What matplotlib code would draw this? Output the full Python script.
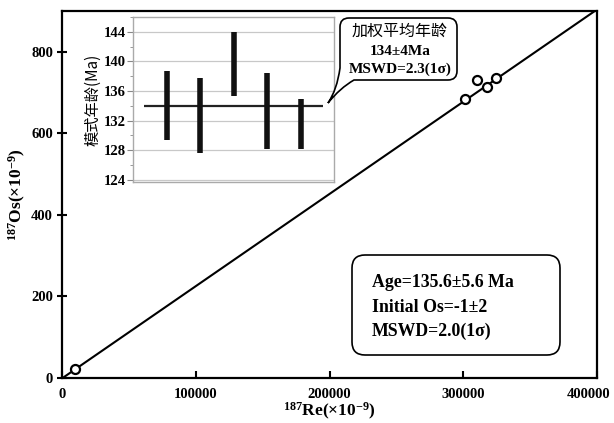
import numpy as np
import matplotlib
matplotlib.use("Agg")
import matplotlib.pyplot as plt
from matplotlib.path import Path
from matplotlib.patches import PathPatch, FancyBboxPatch
from matplotlib.transforms import ScaledTranslation

# ---- data ----
re187 = [9800, 301500, 310400, 317900, 324600]
os187 = [22, 685, 731, 714, 736]
iso_age_ma = 135.6
iso_initial = -1.0
decay_const = 1.666e-11
x_range = [0, 400000]

sample_pos = [1, 2, 3, 4, 5]
model_age = [134.05, 132.65, 139.65, 133.3, 131.5]
model_err = [4.65, 5.05, 4.35, 5.1, 3.4]
weighted_mean = 134.0

x_ticks = [0, 100000, 200000, 300000, 400000]
y_ticks = [0, 200, 400, 600, 800]
inset_ticks = [124, 128, 132, 136, 140, 144]

plt.rcParams['mathtext.fontset'] = 'custom'
plt.rcParams['mathtext.rm'] = 'Liberation Serif:bold'
plt.rcParams['mathtext.bf'] = 'Liberation Serif:bold'
plt.rcParams['mathtext.it'] = 'Liberation Serif:bold:italic'

W, H = 614, 423
fig = plt.figure(figsize=(W / 100, H / 100), dpi=100)
serif = ['Liberation Serif', 'DejaVu Serif']
cjk = ['Noto Sans CJK SC', 'DejaVu Sans']

ax = fig.add_axes([62 / W, 1 - 378 / H, (597 - 62) / W, (378 - 11) / H])
slope = np.exp(decay_const * iso_age_ma * 1e6) - 1
lx = np.array(x_range, dtype=float)
ax.plot(lx, iso_initial + slope * lx, color='black', lw=1.5, zorder=2)
ax.plot(re187, os187, 'o', ms=6.5, mfc='white', mec='black', mew=1.6, zorder=3)
ax.set_xlim(0, 400000)
ax.set_ylim(0, 900)
ax.set_xticks(x_ticks)
ax.set_yticks(y_ticks)
ax.set_xticklabels([str(v) for v in x_ticks], fontfamily=serif, fontweight='bold', fontsize=10.5)
ax.set_yticklabels([str(v) for v in y_ticks], fontfamily=serif, fontweight='bold', fontsize=10.5)
ax.tick_params(axis='x', direction='in', length=5, width=1.5, pad=7)
ax.tick_params(axis='y', direction='inout', length=7, width=1.5, pad=3)
for s in ax.spines.values():
    s.set_linewidth(1.6)
last = ax.get_xticklabels()[-1]
last.set_transform(last.get_transform() + ScaledTranslation(-0.08, 0, fig.dpi_scale_trans))
ax.set_xlabel(r'$^{187}$Re(×10$^{-9}$)', fontfamily=serif, fontweight='bold', fontsize=12.5, labelpad=0)
ax.set_ylabel(r'$^{187}$Os(×10$^{-9}$)', fontfamily=serif, fontweight='bold', fontsize=12.5, labelpad=2)

# ---- inset ----
ins = fig.add_axes([133 / W, 1 - 182 / H, (334 - 133) / W, (182 - 17) / H])
ins.set_xlim(0, 6)
ins.set_ylim(123.7, 146)
lo = [m - e for m, e in zip(model_age, model_err)]
hi = [m + e for m, e in zip(model_age, model_err)]
ins.hlines(weighted_mean, 0.33, 5.67, color='#222222', lw=1.6, zorder=3)
ins.vlines(sample_pos, lo, hi, color='#111111', lw=4, zorder=4, capstyle='butt')
ins.set_yticks(inset_ticks)
ins.set_yticks(np.arange(124, 146.1, 2), minor=True)
ins.set_yticklabels([str(v) for v in inset_ticks], fontfamily=serif, fontweight='bold', fontsize=10.5)
ins.tick_params(axis='y', which='major', direction='out', length=4, color='#888888', pad=1)
ins.tick_params(axis='y', which='minor', direction='out', length=2, color='#888888')
ins.set_xticks([])
ins.grid(axis='y', which='major', color='#c8c8c8', lw=0.9)
ins.set_axisbelow(True)
for s in ins.spines.values():
    s.set_color('#aaaaaa')
    s.set_linewidth(1.0)
ins.set_ylabel('模式年龄(Ma)', fontfamily=cjk, fontsize=11, labelpad=2)

# ---- callout (pixel coords, y downwards) ----
def P(x, y):
    return (x / 100, (H - y) / 100)

x0, x1, y0, y1, r = 340, 457, 18, 80, 9
verts = [P(x0 + r, y0), P(x1 - r, y0), P(x1, y0), P(x1, y0 + r), P(x1, y1 - r),
         P(x1, y1), P(x1 - r, y1), P(354, y1), P(340, 88), P(328, 103),
         P(337, 90), P(x0, 68), P(x0, y0 + r), P(x0, y0), P(x0 + r, y0), P(x0 + r, y0)]
codes = [Path.MOVETO, Path.LINETO, Path.CURVE3, Path.CURVE3, Path.LINETO,
         Path.CURVE3, Path.CURVE3, Path.LINETO, Path.CURVE3, Path.CURVE3,
         Path.CURVE3, Path.CURVE3, Path.LINETO, Path.CURVE3, Path.CURVE3, Path.CLOSEPOLY]
call = PathPatch(Path(verts, codes), facecolor='white', edgecolor='black', lw=1.2,
                 transform=fig.dpi_scale_trans, zorder=10)
fig.patches.append(call)
cx = 400
fig.text(*P(cx, 31), '加权平均年龄', fontfamily=cjk, fontsize=11.5,
         ha='center', va='center', transform=fig.dpi_scale_trans, zorder=11)
fig.text(*P(cx, 51), '134±4Ma', fontfamily=serif, fontweight='bold', fontsize=11,
         ha='center', va='center', transform=fig.dpi_scale_trans, zorder=11)
fig.text(*P(cx, 69), 'MSWD=2.3(1σ)', fontfamily=serif, fontweight='bold', fontsize=11,
         ha='center', va='center', transform=fig.dpi_scale_trans, zorder=11)

# ---- result box ----
bx0, by0, bx1, by1 = 352, 255, 560, 355
rb = FancyBboxPatch(P(bx0, by1), (bx1 - bx0) / 100, (by1 - by0) / 100,
                    boxstyle='round,pad=0,rounding_size=0.13', facecolor='white',
                    edgecolor='black', lw=1.2, transform=fig.dpi_scale_trans, zorder=10)
fig.patches.append(rb)
for yy, t in [(282, 'Age=135.6±5.6 Ma'), (307, 'Initial Os=-1±2'), (331, 'MSWD=2.0(1σ)')]:
    fig.text(*P(372, yy), t, fontfamily=serif, fontweight='bold', fontsize=12.8,
             ha='left', va='center', transform=fig.dpi_scale_trans, zorder=11)

fig.savefig('out.png', dpi=100)
